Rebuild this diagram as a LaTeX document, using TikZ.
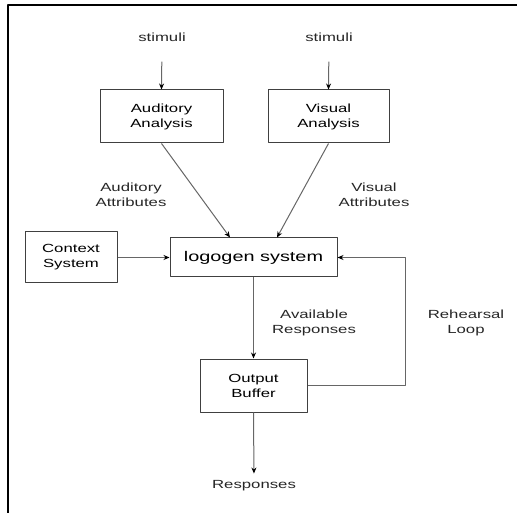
\documentclass[tikz,border=0pt]{standalone}
\usepackage{fontspec}
\setmainfont[FakeStretch=1.42]{Liberation Sans}
\usetikzlibrary{arrows.meta}
\begin{document}
\begin{tikzpicture}[x=1pt,y=-1pt,line join=round,font=\fontsize{11.8}{15}\selectfont,
	box/.style={draw=black!75,line width=1pt,align=center,inner sep=0pt},
	lbl/.style={align=center,text=black!85,inner sep=1pt},
	arr/.style={draw=black!60,line width=1pt,-{Stealth[black,length=6pt,width=5pt]}}]
	\useasboundingbox (0,0) rectangle (517,513);
	% frame
	\draw[line width=2pt] (8,513)--(8,5)--(517,5);
	% inputs
	\node[lbl] (stimA) at (162,37) {stimuli};
	\node[lbl] (stimV) at (329,37) {stimuli};
	\node[box,minimum width=123pt,minimum height=53pt] (audA) at (161.5,116.5) {Auditory\\Analysis};
	\node[box,minimum width=121pt,minimum height=53pt] (visA) at (328.5,116.5) {Visual\\Analysis};
	\node[lbl] (attA) at (131,195) {Auditory\\Attributes};
	\node[lbl] (attV) at (374,195) {Visual\\Attributes};
	% centre row
	\node[box,minimum width=92pt,minimum height=51pt] (ctx) at (71,257.5) {Context\\System};
	\node[box,minimum width=167pt,minimum height=39pt,font=\fontsize{14}{16}\selectfont] (logo) at (253.5,257.5) {logogen system};
	\node[lbl] (avail) at (314,323) {Available\\Responses};
	\node[lbl] (loop) at (466,323) {Rehearsal\\Loop};
	\node[box,minimum width=107pt,minimum height=53pt] (out) at (253.5,385.5) {Output\\Buffer};
	\node[lbl] (resp) at (254,486) {Responses};
	% connectors
	\draw[arr,shorten <=19pt] (stimA.south)--(audA.north);
	\draw[arr,shorten <=19pt] (stimV.south)--(visA.north);
	\draw[arr] (audA.south)--([xshift=-23.5pt]logo.north);
	\draw[arr] (visA.south)--([xshift=23.5pt]logo.north);
	\draw[arr] (ctx.east)--(logo.west);
	\draw[arr] (logo.south)--(out.north);
	\draw[arr,shorten >=6pt] (out.south)--(resp.north);
	\draw[arr] (out.east)--++(98,0)|-(logo.east);
\end{tikzpicture}
\end{document}
